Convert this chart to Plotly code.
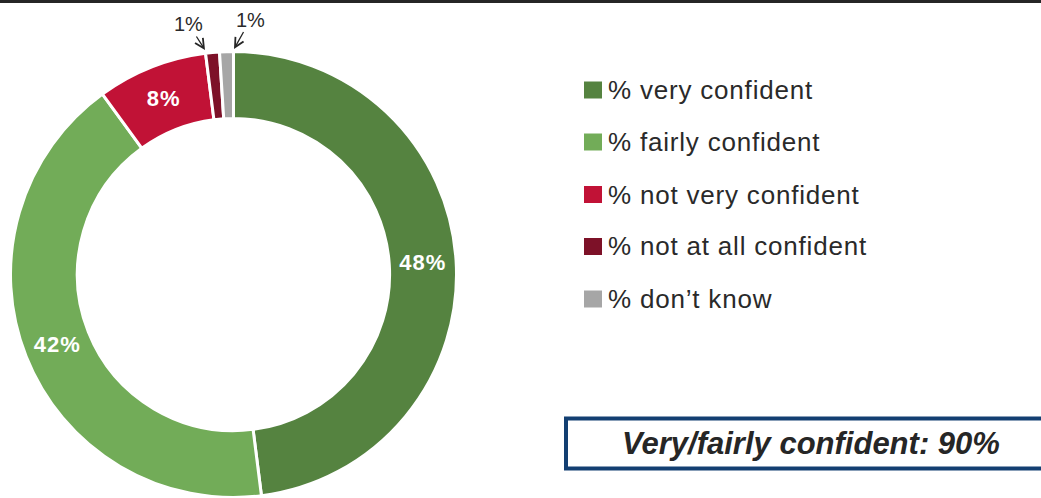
import plotly.graph_objects as go

# Survey responses: confidence levels (%)
labels = ["% very confident", "% fairly confident", "% not very confident",
          "% not at all confident", "% don\u2019t know"]
values = [48, 42, 8, 1, 1]
colors = ["#558340", "#72AC58", "#C11236", "#7D1128", "#A6A6A6"]
summary_text = "Very/fairly confident: 90%"

W, H = 1041, 498


def px(x):
    return x / W


def py(y):
    return 1 - y / H


# Slices big enough carry their label inside; tiny ones get an arrow callout
inside = [v >= 5 for v in values]
text_pos = ["inside" if f else "none" for f in inside]

fig = go.Figure()
fig.add_trace(go.Pie(
    labels=labels,
    values=values,
    hole=0.70,
    sort=False,
    direction="clockwise",
    rotation=0,
    marker=dict(colors=colors, line=dict(color="white", width=3)),
    texttemplate="<span style='letter-spacing:1px'>%{value}%</span>",
    textposition=text_pos,
    insidetextorientation="horizontal",
    insidetextfont=dict(family="Liberation Sans", size=22, color="white", weight="bold"),
    domain=dict(x=[px(10), px(457)], y=[py(497.5), py(51.5)]),
    showlegend=False,
    hoverinfo="label+percent",
))

shapes = []
annotations = []

# Dark rule across the top
shapes.append(dict(type="rect", xref="paper", yref="paper",
                   x0=0, x1=1, y0=py(3), y1=1,
                   fillcolor="#262626", line=dict(width=0)))

# Callouts for the 1% slices
callouts = [
    dict(tip=(205, 50), txt=(188.5, 24)),
    dict(tip=(234, 49), txt=(250.5, 19.5)),
]
small = [i for i, f in enumerate(inside) if not f]
for idx, c in zip(small, callouts):
    annotations.append(dict(
        xref="paper", yref="paper",
        x=px(c["tip"][0]), y=py(c["tip"][1]),
        ax=c["txt"][0] - c["tip"][0], ay=c["txt"][1] - c["tip"][1],
        text=f"{values[idx]}%", showarrow=True,
        arrowhead=5, arrowsize=1.4, arrowwidth=1.3, arrowcolor="#262626",
        font=dict(family="Liberation Sans", size=20, color="#2a2a2a"),
    ))

# Legend drawn as swatches + labels
row_y = [90, 142, 194.5, 246.5, 299]
for lab, col, yc in zip(labels, colors, row_y):
    shapes.append(dict(type="rect", xref="paper", yref="paper",
                       x0=px(584), x1=px(602), y0=py(yc + 8.5), y1=py(yc - 8.5),
                       fillcolor=col, line=dict(width=0)))
    annotations.append(dict(
        xref="paper", yref="paper", x=px(606), y=py(yc),
        xanchor="left", yanchor="middle", showarrow=False,
        text=f"<span style='letter-spacing:0.8px'>{lab}</span>",
        font=dict(family="Liberation Sans", size=26, color="#2a2a2a"),
    ))

# Summary box, running off the right edge
shapes.append(dict(type="rect", xref="paper", yref="paper",
                   x0=px(566), x1=px(1050), y0=py(468.5), y1=py(418.5),
                   fillcolor="rgba(0,0,0,0)", line=dict(color="#133F72", width=4)))
annotations.append(dict(
    xref="paper", yref="paper", x=px(811), y=py(443),
    xanchor="center", yanchor="middle", showarrow=False,
    text=f"<b><i>{summary_text}</i></b>",
    font=dict(family="Liberation Sans", size=31, color="#262626"),
))

fig.update_layout(
    width=W, height=H,
    margin=dict(l=0, r=0, t=0, b=0),
    paper_bgcolor="white", plot_bgcolor="white",
    shapes=shapes, annotations=annotations,
)

fig.write_html("out.html")
